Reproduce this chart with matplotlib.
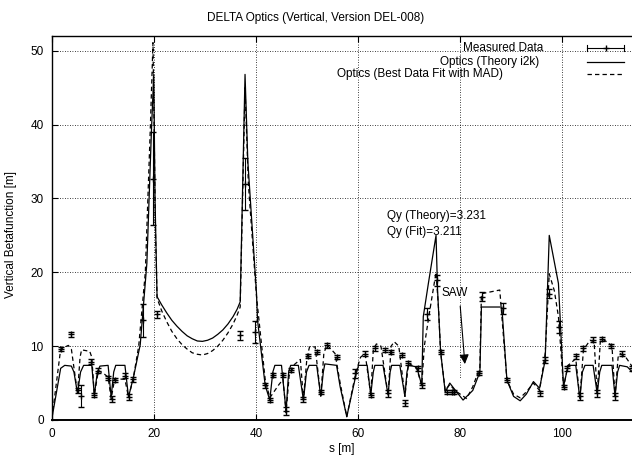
import matplotlib
matplotlib.use("Agg")
import matplotlib.pyplot as plt
from matplotlib.patches import Rectangle
from matplotlib.lines import Line2D

plt.rcParams['font.family'] = ['Liberation Sans', 'DejaVu Sans']

# ---- data ----
theory_s = [0, 1.7, 2.5, 3.8, 4.3, 5.0, 5.6, 6.2, 7.8, 8.3, 8.9, 9.4, 11.0, 11.6, 12.1, 12.5,
            14.3, 15.0, 16.0, 17.3, 18.6, 19.5, 19.95, 20.2, 20.6, 21.5, 22.5, 23.5, 24.5, 25.5,
            26.5, 27.5, 28.5, 29.5, 30.5, 31.5, 32.5, 33.5, 34.5, 35.5, 36.3, 36.9,
            37.85, 38.4, 40.1, 40.3, 41.8, 42.7, 43.3, 43.7, 45.0, 45.9, 46.4, 46.8,
            48.3, 49.3, 49.9, 50.4, 51.9, 52.7, 53.2, 53.5, 55.8, 56.5, 57.8, 59.6, 60.1, 61.8,
            62.5, 63.0, 63.3, 64.9, 65.9, 66.3, 66.6, 68.2, 69.2, 69.6, 69.9, 71.5, 72.5, 72.8,
            73.8, 75.3, 75.6, 76.2, 77.1, 78.0, 79.0, 80.6, 82.5, 83.9, 84.2, 88.2, 89.2, 90.5,
            91.8, 93.0, 94.4, 95.6, 96.7, 97.5, 99.3, 100.3, 101.2, 102.7, 103.5, 104.0, 104.5,
            106.1, 106.9, 107.4, 107.8, 109.8, 110.4, 110.9, 111.3, 112.8, 114.5]
theory_b = [0.3, 7.0, 7.4, 7.3, 6.5, 3.6, 6.5, 7.4, 7.4, 3.4, 6.5, 7.3, 7.4, 3.1, 6.5, 7.4,
            7.4, 3.1, 5.9, 10.2, 21.2, 39.2, 46.8, 30.0, 16.7, 15.6, 14.5, 13.5, 12.7, 12.0,
            11.4, 11.0, 10.7, 10.65, 10.8, 11.1, 11.6, 12.2, 13.0, 14.0, 15.0, 16.0,
            46.8, 35.0, 17.1, 13.5, 4.7, 2.7, 6.5, 7.4, 7.4, 1.2, 6.5, 7.4,
            7.4, 2.7, 6.5, 7.4, 7.4, 3.2, 6.5, 7.6, 7.4, 4.5, 0.45, 6.1, 7.4, 7.4,
            3.4, 6.5, 7.4, 7.4, 3.4, 6.5, 7.4, 7.4, 3.2, 6.5, 7.4, 7.2, 4.7, 14.0,
            18.5, 25.0, 17.6, 9.2, 3.8, 5.0, 4.1, 2.7, 4.0, 6.5, 15.3, 15.3, 5.4, 3.2,
            2.6, 3.5, 5.2, 4.3, 8.1, 25.0, 18.5, 4.5, 7.4, 7.4, 2.9, 6.5, 7.4,
            7.4, 3.6, 6.5, 7.4, 7.4, 3.2, 6.5, 7.4, 7.2, 6.0]

fit_s = [0, 1.7, 3.2, 3.8, 5.0, 5.5, 5.8, 7.4, 7.8, 8.3, 9.1, 10.3, 11.0, 11.6, 12.3, 14.3,
         15.0, 15.9, 17.0, 18.3, 19.3, 19.8, 20.3, 20.6, 21.5, 22.5, 23.5, 24.5, 25.5, 26.5,
         27.5, 28.5, 29.5, 30.5, 31.5, 32.5, 33.5, 34.5, 35.5, 36.3, 36.9,
         37.85, 38.5, 40.1, 41.8, 42.7, 44.5, 45.3, 45.9, 46.5, 47.5, 48.7, 49.3, 50.0,
         50.5, 51.6, 52.7, 53.3, 53.9, 55.5, 56.5, 57.8, 59.6, 60.5, 61.4, 62.5, 63.0, 63.6,
         64.5, 65.9, 66.5, 67.1, 68.0, 69.2, 69.9, 71.5, 72.5, 73.0, 74.0, 75.3, 75.8, 76.2,
         77.1, 78.0, 79.0, 81.3, 82.5, 83.9, 84.2, 87.8, 89.2, 90.5, 91.8, 93.0, 94.4, 95.6,
         96.7, 97.5, 98.5, 99.3, 100.3, 101.2, 102.7, 103.5, 104.2, 105.5, 106.3, 106.9, 107.5,
         107.8, 109.0, 109.8, 110.4, 111.0, 111.4, 112.5, 114.5]
fit_b = [0.3, 9.6, 10.1, 9.6, 3.6, 8.5, 9.5, 9.3, 8.5, 3.4, 6.7, 6.2, 5.8, 2.9, 5.6, 5.5,
         3.1, 5.5, 10.0, 20.0, 40.0, 51.1, 25.0, 16.5, 14.8, 13.3, 12.0, 11.0, 10.2, 9.6,
         9.1, 8.9, 8.8, 9.0, 9.4, 10.0, 10.8, 11.8, 13.0, 14.2, 15.3,
         45.0, 32.0, 16.7, 5.5, 3.0, 4.8, 5.5, 1.0, 6.0, 7.5, 8.2, 2.8, 8.5,
         9.9, 9.9, 3.2, 9.0, 10.2, 9.0, 5.0, 0.45, 6.5, 8.5, 9.0, 3.4, 9.5, 10.3,
         10.0, 3.4, 10.0, 10.6, 10.0, 3.2, 7.7, 7.0, 4.7, 10.0, 14.5, 20.0, 15.0, 9.2,
         4.0, 4.8, 4.0, 2.9, 4.5, 7.1, 17.1, 17.6, 5.4, 3.5, 3.0, 3.8, 5.0, 4.0,
         9.0, 19.8, 17.5, 14.0, 4.5, 7.4, 8.3, 2.9, 9.5, 10.8, 10.6, 3.6, 10.5,
         11.0, 10.5, 10.0, 3.2, 8.5, 9.0, 8.5, 6.5]

meas_s = [1.7, 3.7, 5.0, 5.7, 7.65, 8.3, 9.1, 10.9, 11.7, 12.3, 14.3, 15.0, 15.9, 17.9, 19.9,
          20.65, 36.9, 37.85, 39.8, 41.8, 42.7, 43.3, 45.2, 45.9, 46.8, 49.3, 50.1, 51.9, 52.7,
          54.0, 55.9, 59.4, 61.4, 62.5, 63.3, 65.3, 65.9, 66.5, 68.6, 69.2, 69.9, 71.8, 72.5,
          73.5, 75.4, 76.2, 77.4, 78.4, 78.9, 83.8, 84.4, 88.4, 89.2, 95.6, 96.7, 97.5, 99.5,
          100.3, 100.9, 102.7, 103.5, 104.2, 106.1, 106.9, 107.8, 109.7, 110.4, 111.7, 113.7]
meas_b = [9.6, 11.6, 4.0, 3.2, 7.9, 3.4, 6.7, 5.7, 2.9, 5.4, 6.0, 3.1, 5.5, 13.5, 32.7,
          14.3, 11.5, 32.0, 11.9, 4.7, 2.7, 6.1, 6.1, 1.2, 6.8, 2.8, 8.7, 9.2, 3.8,
          10.1, 8.5, 6.3, 9.0, 3.4, 9.7, 9.5, 3.6, 9.2, 8.8, 2.25, 7.7, 7.0, 4.7,
          14.4, 18.9, 9.2, 3.8, 3.8, 3.8, 6.4, 16.7, 15.1, 5.4, 3.6, 8.1, 17.1, 12.6,
          4.5, 7.0, 8.6, 3.2, 9.7, 10.9, 3.6, 11.0, 10.0, 3.2, 9.0, 7.0]
meas_err = [0.3, 0.3, 0.3, 1.5, 0.3, 0.3, 0.3, 0.3, 0.4, 0.3, 0.3, 0.4, 0.3, 2.2, 6.3,
            0.5, 0.6, 3.5, 1.5, 0.3, 0.3, 0.3, 0.3, 0.5, 0.3, 0.3, 0.3, 0.3, 0.3,
            0.3, 0.3, 0.6, 0.3, 0.3, 0.3, 0.3, 0.5, 0.3, 0.3, 0.4, 0.3, 0.3, 0.3,
            0.8, 0.8, 0.3, 0.3, 0.3, 0.3, 0.3, 0.6, 0.8, 0.3, 0.3, 0.4, 0.6, 0.8,
            0.3, 0.3, 0.3, 0.5, 0.3, 0.3, 0.5, 0.3, 0.3, 0.5, 0.3, 0.3]

x_ticks = [0, 20, 40, 60, 80, 100]
y_ticks = [0, 10, 20, 30, 40, 50]

W, H = 632, 457
fig = plt.figure(figsize=(W / 100, H / 100), dpi=100)
ax = fig.add_axes([52 / W, (H - 420) / H, 586.5 / W, 384 / H])
ax.set_xlim(0, 115)
ax.set_ylim(0, 52)
ax.set_axisbelow(True)
ax.grid(True, color='black', linestyle=(0, (1, 2)), linewidth=0.6)
ax.set_xticks(x_ticks)
ax.set_yticks(y_ticks)
ax.tick_params(direction='in', length=4, width=0.8, top=True, right=False,
               labelsize=8.5, pad=6)
for sp in ax.spines.values():
    sp.set_linewidth(1.0)
ax.spines['bottom'].set_linewidth(1.4)
ax.spines['right'].set_visible(False)

# key box hides the grid beneath it
ax.add_patch(Rectangle((458, 36), 200, 42, transform=None, facecolor='white',
                       edgecolor='none', zorder=1))

ax.plot(theory_s, theory_b, color='black', linewidth=0.9, zorder=3)
ax.plot(fit_s, fit_b, color='black', linewidth=0.9, linestyle=(0, (3.5, 2.5)), zorder=3)
ax.errorbar(meas_s, meas_b, yerr=meas_err, fmt='+', color='black', markersize=5,
            markeredgewidth=1.0, elinewidth=0.8, capsize=2.5, capthick=0.8, zorder=4)

ax.text(65.7, 27.6, 'Qy (Theory)=3.231', fontsize=8.5, ha='left', va='center')
ax.text(65.7, 25.5, 'Qy (Fit)=3.211', fontsize=8.5, ha='left', va='center')
ax.text(76.3, 17.2, 'SAW', fontsize=8.5, ha='left', va='center')
ax.annotate('', xy=(81.0, 7.2), xytext=(80.0, 15.8),
            arrowprops=dict(arrowstyle='-|>', color='black', lw=0.8, mutation_scale=14))

def fx(px):
    return px / W

def fy(py):
    return 1 - py / H

fig.text(fx(316), fy(18), 'DELTA Optics (Vertical, Version DEL-008)', fontsize=8.5,
         ha='center', va='center')
fig.text(fx(342), fy(449), 's [m]', fontsize=8.5, ha='center', va='center')
fig.text(fx(11), fy(235), 'Vertical Betafunction [m]', fontsize=8.5, ha='center',
         va='center', rotation=90)

# key
fig.text(fx(543), fy(48), 'Measured Data', fontsize=8.5, ha='right', va='center')
fig.text(fx(539), fy(62), 'Optics (Theory i2k)', fontsize=8.5, ha='right', va='center')
fig.text(fx(503), fy(74), 'Optics (Best Data Fit with MAD)', fontsize=8.5, ha='right',
         va='center')
x0, x1 = 587, 624
fig.add_artist(Line2D([fx(x0), fx(x1)], [fy(48), fy(48)], color='black', lw=0.8))
fig.add_artist(Line2D([fx(x0), fx(x0)], [fy(45), fy(51)], color='black', lw=0.8))
fig.add_artist(Line2D([fx(x1), fx(x1)], [fy(45), fy(51)], color='black', lw=0.8))
fig.add_artist(Line2D([fx(605.5)], [fy(48)], marker='+', color='black', markersize=5,
                      markeredgewidth=1.0))
fig.add_artist(Line2D([fx(x0), fx(x1)], [fy(62), fy(62)], color='black', lw=0.9))
fig.add_artist(Line2D([fx(x0), fx(x1)], [fy(74), fy(74)], color='black', lw=0.9,
                      linestyle=(0, (3.5, 2.5))))

fig.savefig('out.png', dpi=100)
